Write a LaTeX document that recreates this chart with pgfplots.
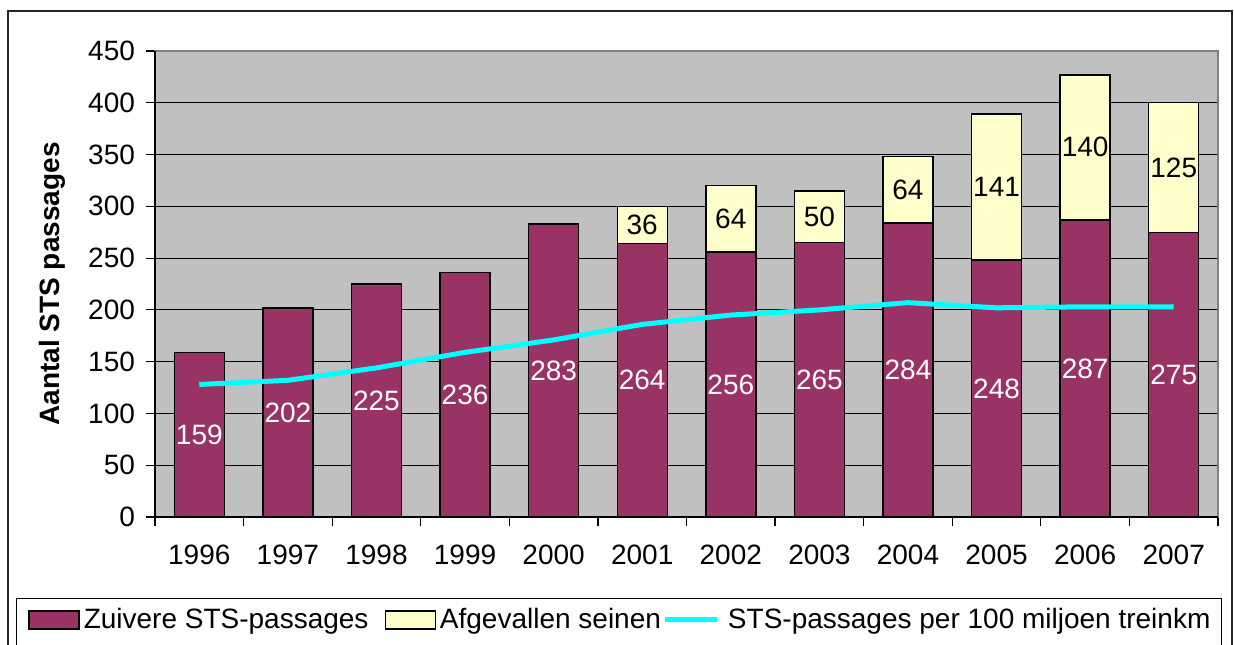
\documentclass[border=0pt]{standalone}
\usepackage{pgfplots}
\pgfplotsset{compat=1.18}
\usepackage{pgfplotstable}
\usepackage{fontspec}
\setmainfont{Liberation Sans}
\definecolor{plum}{HTML}{993366}
\definecolor{paleyel}{HTML}{FFFFCC}
\definecolor{stsline}{HTML}{00FFFF}
\definecolor{plotbg}{HTML}{C0C0C0}
\definecolor{plotedge}{HTML}{808080}
\newcommand{\chartfont}{\fontsize{14}{16.8}\selectfont}
\pgfplotsset{
  barleg/.style={legend image code/.code={\draw[##1] (0pt,-4.5pt) rectangle (25pt,4.5pt);}},
  lineleg/.style={legend image code/.code={\draw[##1] (0pt,0pt) -- (26pt,0pt);}}}

% x, year, pure STS passages, failed signals, STS per 100 mln train-km
\pgfplotstableread{
x year zuiver afgev rate
0 1996 159 0 128
1 1997 202 0 132
2 1998 225 0 144
3 1999 236 0 159
4 2000 283 0 171
5 2001 264 36 186
6 2002 256 64 195
7 2003 265 50 200
8 2004 284 64 207
9 2005 248 141 202
10 2006 287 140 203
11 2007 275 125 203
}\sts

\begin{document}
\begin{tikzpicture}
\begin{axis}[name=main, at={(0,0)}, anchor=south west,
  scale only axis, width=531.5pt, height=233pt,
  ybar stacked, bar width=25pt,
  xmin=-0.5, xmax=11.5, ymin=0, ymax=450,
  xtick={-0.5,0.5,...,11.5},
  xticklabels={1996,1997,1998,1999,2000,2001,2002,2003,2004,2005,2006,2007},
  x tick label style={xshift=22.15pt, yshift=-6pt},
  ytick={0,50,...,450},
  y tick label style={xshift=-2pt},
  xtick pos=bottom, ytick pos=left,
  tick align=outside, major tick length=4.5pt,
  tick style={black, line width=0.6pt},
  ymajorgrids, grid style={black, line width=0.5pt},
  axis line style={plotedge, line width=1pt},
  axis background/.style={fill=plotbg},
  tick label style={font=\chartfont},
  /pgf/number format/assume math mode=true,
  ylabel={Aantal STS passages},
  ylabel style={at={(axis description cs:-0.0969,0.5)}, anchor=center,
    font=\bfseries\chartfont},
  legend columns=3,
  legend style={at={(axis description cs:-0.1195,-0.221)}, anchor=west,
    draw=none, fill=none, inner sep=0pt, font=\chartfont,
    /tikz/column 2/.style={column sep=6pt},
    /tikz/column 4/.style={column sep=-1pt},
    /tikz/column 5/.style={column sep=2pt}},
]
\addplot[fill=plum, draw=black, line width=0.7pt, barleg]
  table[x=x, y=zuiver]{\sts};
\addlegendentry{Zuivere STS-passages}
\addplot[fill=paleyel, draw=black, line width=0.7pt, barleg]
  table[x=x, y=afgev]{\sts};
\addlegendentry{Afgevallen seinen}
\addlegendimage{draw=stsline, line width=2.5pt, lineleg}
\addlegendentry{STS-passages per 100 miljoen treinkm}
\end{axis}

\begin{axis}[at={(0,0)}, anchor=south west,
  scale only axis, width=531.5pt, height=233pt,
  xmin=-0.5, xmax=11.5, ymin=0, ymax=450, hide axis]
\addplot[stsline, line width=2.5pt, mark=none] table[x=x, y=rate]{\sts};
% value labels centred in each bar segment
\addplot[draw=none, mark=none, nodes near coords, point meta=explicit symbolic,
  every node near coord/.append style={anchor=center, text=white, font=\chartfont}]
  table[x=x, y expr=\thisrow{zuiver}/2, meta=zuiver]{\sts};
\addplot[draw=none, mark=none, nodes near coords, point meta=explicit symbolic,
  skip coords between index={0}{5},
  every node near coord/.append style={anchor=center, text=black, font=\chartfont}]
  table[x=x, y expr=\thisrow{zuiver}+\thisrow{afgev}/2, meta=afgev]{\sts};
\end{axis}

\draw[plotedge, line width=1pt] (main.north west) -- (main.north east) -- (main.south east);
\draw[black, line width=0.8pt] (main.north west) -- (main.south west) -- (main.south east);
\draw[black!85, line width=1pt] (-73.5pt,-75pt) rectangle (538.5pt,253pt);
\draw[black, line width=0.5pt] (-69pt,-40.5pt) rectangle (533pt,-75pt);
\pgfresetboundingbox
\path[use as bounding box] (-77.5pt,-63.5pt) rectangle (539.5pt,258.5pt);
\end{tikzpicture}
\end{document}
